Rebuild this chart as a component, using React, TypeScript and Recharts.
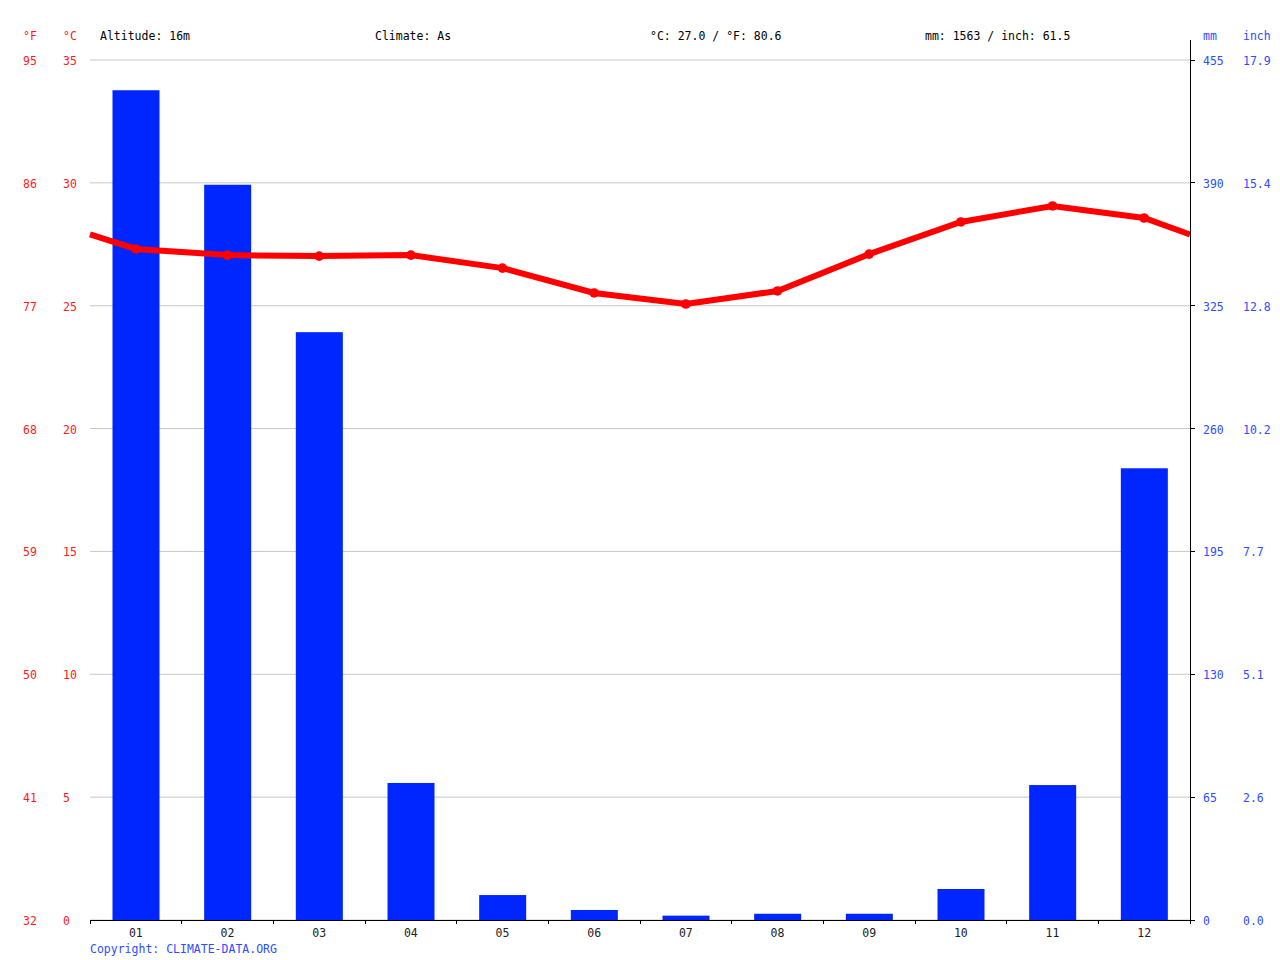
import { Bar, CartesianGrid, ComposedChart, Line, XAxis, YAxis } from "recharts";

const months = [1, 2, 3, 4, 5, 6, 7, 8, 9, 10, 11, 12];
const monthLabels = ["01", "02", "03", "04", "05", "06", "07", "08", "09", "10", "11", "12"];
const rainMm = [439, 389, 311, 72.5, 13.2, 5.3, 2.3, 3.3, 3.3, 16.4, 71.4, 239];
const tempC = [27.31, 27.06, 27.02, 27.06, 26.53, 25.52, 25.07, 25.6, 27.1, 28.41, 29.06, 28.57];
// line runs on to the plot edges (value at both borders)
const edgeTemp = 27.9;

const tempTicksC = [0, 5, 10, 15, 20, 25, 30, 35];
const tempTicksF = ["32", "41", "50", "59", "68", "77", "86", "95"];
const rainTicksMm = [0, 65, 130, 195, 260, 325, 390, 455];
const rainTicksInch = ["0.0", "2.6", "5.1", "7.7", "10.2", "12.8", "15.4", "17.9"];

const RED = "#ff1a1a";
const BLUE = "#2d4dff";
const BAR = "#0026ff";
const FONT = "'DejaVu Sans Mono', monospace";
const BAR_W = 47;

const barData = months.map((m, i) => ({ m, mm: rainMm[i] }));
const lineData = [
  { m: 0.5, t: edgeTemp },
  ...months.map((m, i) => ({ m, t: tempC[i] })),
  { m: 12.5, t: edgeTemp },
];
const xTicks = [0.5, ...months.flatMap((m) => [m, m + 0.5])];

function TempTick({ y, payload }: any) {
  const i = tempTicksC.indexOf(payload.value);
  return (
    <g style={{ fontFamily: FONT, fontSize: 11.5 }} fill={RED}>
      <text x={23} y={y} dy={5}>{tempTicksF[i]}</text>
      <text x={63} y={y} dy={5}>{payload.value}</text>
    </g>
  );
}

function RainTick({ y, payload }: any) {
  const i = rainTicksMm.indexOf(payload.value);
  return (
    <g style={{ fontFamily: FONT, fontSize: 11.5 }} fill={BLUE}>
      <text x={1203} y={y} dy={5}>{payload.value}</text>
      <text x={1243} y={y} dy={5}>{rainTicksInch[i]}</text>
    </g>
  );
}

function MonthTick({ x, y, payload }: any) {
  const v = payload.value;
  if (Number.isInteger(v)) {
    return (
      <text x={x} y={y + 13} textAnchor="middle" fill="#222" style={{ fontFamily: FONT, fontSize: 11.5 }}>
        {monthLabels[v - 1]}
      </text>
    );
  }
  return <line x1={x} x2={x} y1={y - 4} y2={y} stroke="#000" strokeWidth={1} shapeRendering="crispEdges" />;
}

function RainBar({ x, y, width, height }: any) {
  if (!height || height <= 0) return <g />;
  const cx = x + width / 2;
  return <rect x={cx - BAR_W / 2} y={y} width={BAR_W} height={height} fill={BAR} />;
}

function TempDot({ cx, cy, payload, index }: any) {
  if (!Number.isInteger(payload.m)) return <g key={`d${index}`} />;
  return <circle key={`d${index}`} cx={cx} cy={cy} r={4.8} fill="#ff0000" />;
}

const label = (text: string, left: number, top: number, color: string) => (
  <div
    style={{
      position: "absolute", left, top, fontFamily: FONT, fontSize: 11.5,
      color, lineHeight: "14px", whiteSpace: "pre",
    }}
  >
    {text}
  </div>
);

export default function App() {
  return (
    <div style={{ position: "absolute", left: 0, top: 0, width: 1280, height: 960, background: "#fff" }}>
      <ComposedChart width={1280} height={960} data={barData} margin={{ top: 60, right: 0, bottom: 0, left: 0 }}>
        <CartesianGrid vertical={false} stroke="#c8c8c8" yAxisId="temp" />
        <XAxis
          dataKey="m" type="number" domain={[0.5, 12.5]} ticks={xTicks} interval={0}
          height={40} tickLine={false} tickSize={4} tickMargin={0}
          axisLine={{ stroke: "#000", shapeRendering: "crispEdges" }} tick={<MonthTick />}
        />
        <YAxis
          yAxisId="temp" orientation="left" width={90} domain={[0, 35]} ticks={tempTicksC}
          axisLine={false} tickLine={false} tick={<TempTick />}
        />
        <YAxis
          yAxisId="rain" orientation="right" width={90} domain={[0, 455]} ticks={rainTicksMm}
          axisLine={{ stroke: "#000", shapeRendering: "crispEdges" }}
          tickLine={{ stroke: "#000", shapeRendering: "crispEdges" }} tickSize={5} tick={<RainTick />}
        />
        <Bar yAxisId="rain" dataKey="mm" fill={BAR} shape={<RainBar />} isAnimationActive={false} />
        <Line
          yAxisId="temp" data={lineData} dataKey="t" type="linear" stroke="#ff0000" strokeWidth={6}
          dot={<TempDot />} activeDot={false} isAnimationActive={false}
        />
      </ComposedChart>
      <div style={{ position: "absolute", left: 1190, top: 40, width: 1, height: 21, background: "#000" }} />
      {label("°F", 23, 29, RED)}
      {label("°C", 63, 29, RED)}
      {label("Altitude: 16m", 100, 29, "#000")}
      {label("Climate: As", 375, 29, "#000")}
      {label("°C: 27.0 / °F: 80.6", 650, 29, "#000")}
      {label("mm: 1563 / inch: 61.5", 925, 29, "#000")}
      {label("mm", 1203, 29, BLUE)}
      {label("inch", 1243, 29, BLUE)}
      {label("Copyright: CLIMATE-DATA.ORG", 90, 942, BLUE)}
    </div>
  );
}
